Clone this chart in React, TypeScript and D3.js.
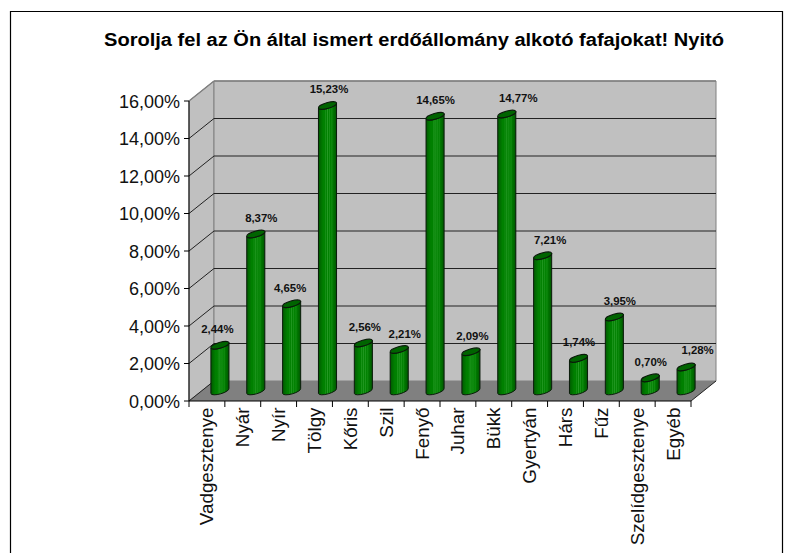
import React from "react";
import * as d3 from "d3";

const categories = ["Vadgesztenye","Nyár","Nyír","Tölgy","Kőris","Szil","Fenyő","Juhar","Bükk","Gyertyán","Hárs","Fűz","Szelídgesztenye","Egyéb"];
const values = [2.44,8.37,4.65,15.23,2.56,2.21,14.65,2.09,14.77,7.21,1.74,3.95,0.70,1.28];
const yTicks = [0,2,4,6,8,10,12,14,16];
const title = "Sorolja fel az Ön által ismert erdőállomány alkotó fafajokat! Nyitó";
// per-label placement nudges seen in the reference
const labelDx = [-2,6,-1,2,2,6,1,2,12,8,1,6,1,12];
const labelDy = [0,0,0,0,0,0,0,0,0,0,0,0,0,-1];

const fmt = (v: number, d = 2) => v.toFixed(d).replace(".", ",") + "%";

const x0 = 189, x1 = 691, yBase = 401, yTop = 101;
const depthX = 25, depthY = -20;
const font = "'Liberation Sans', Arial, sans-serif";

const stops: [number, string][] = [
  [0, "#005800"],[0.12,"#006c00"],[0.26,"#008000"],[0.36,"#008000"],[0.4,"#1c941c"],[0.44,"#008000"],
  [0.5,"#249a24"],[0.55,"#008000"],[0.62,"#1c941c"],[0.66,"#008000"],[0.74,"#108a10"],[0.8,"#007800"],[0.92,"#006400"],[1,"#005000"],
];

export default function App() {
  const x = d3.scaleBand<string>().domain(categories).range([x0, x1]);
  const y = d3.scaleLinear().domain([0, 16]).range([yBase, yTop]);
  const bw = x.bandwidth();
  const rx = 9.4, ang = -16, ry = 2.9;
  const dy = rx * Math.sin((ang * Math.PI) / 180);
  const dx = rx * Math.cos((ang * Math.PI) / 180);

  const floor = [[x0,yBase],[x1,yBase],[x1+depthX,yBase+depthY],[x0+depthX,yBase+depthY]].join(" ");
  const side = [[x0,yBase],[x0,yTop],[x0+depthX,yTop+depthY],[x0+depthX,yBase+depthY]].join(" ");
  const back = [[x0+depthX,yTop+depthY],[x1+depthX,yTop+depthY],[x1+depthX,yBase+depthY],[x0+depthX,yBase+depthY]].join(" ");

  return (
    <svg width={808} height={553} style={{ position: "absolute", left: 0, top: 0, background: "#fff" }}>
      <defs>
        <linearGradient id="cyl" x1="0" x2="1" y1="0" y2="0">
          {stops.map(([o, c], i) => <stop key={i} offset={o} stopColor={c} />)}
        </linearGradient>
      </defs>
      <path d="M10.5 553V11.5H782.5V553" fill="none" stroke="#000" strokeWidth={1.2} />
      <text x={414} y={46} textAnchor="middle" fontFamily={font} fontWeight="bold" fontSize={17.6} textLength={620} lengthAdjust="spacingAndGlyphs" fill="#000">{title}</text>

      <polygon points={side} fill="#c0c0c0" stroke="#808080" strokeWidth={1} />
      <polygon points={back} fill="#c0c0c0" stroke="#808080" strokeWidth={1} />
      <polygon points={floor} fill="#808080" />
      {yTicks.slice(1, -1).map(t => (
        <g key={t} stroke="#222" strokeWidth={1}>
          <line x1={x0} y1={y(t)} x2={x0 + depthX} y2={y(t) + depthY} />
          <line x1={x0 + depthX} y1={y(t) + depthY} x2={x1 + depthX} y2={y(t) + depthY} />
        </g>
      ))}
      <line x1={x0} y1={yTop} x2={x0+depthX} y2={yTop+depthY} stroke="#808080" strokeWidth={1.4} />
      <line x1={x0+depthX} y1={yTop+depthY} x2={x1+depthX} y2={yTop+depthY} stroke="#808080" strokeWidth={1.6} />
      <line x1={x0} y1={yBase} x2={x0+depthX} y2={yBase+depthY} stroke="#222" />
      <line x1={x1} y1={yBase} x2={x1+depthX} y2={yBase+depthY} stroke="#222" />

      {/* axes */}
      <line x1={x0} y1={yTop} x2={x0} y2={yBase} stroke="#000" />
      <line x1={x0} y1={yBase} x2={x1} y2={yBase} stroke="#000" />
      {yTicks.map(t => (
        <g key={t}>
          <line x1={x0 - 5} x2={x0} y1={y(t)} y2={y(t)} stroke="#000" />
          <text x={x0 - 9} y={y(t) + 6.5} textAnchor="end" fontFamily={font} fontSize={18} fill="#111">{fmt(t)}</text>
        </g>
      ))}
      {[...categories.map(c => x(c)!), x1].map((p, i) => (
        <line key={i} x1={p} x2={p} y1={yBase} y2={yBase + 6} stroke="#000" />
      ))}

      {/* cylinders */}
      {categories.map((c, i) => {
        const cx = x(c)! + bw / 2 + depthX / 2 + 0.5;
        const by = yBase + depthY / 2;
        const ty = by - (yBase - y(values[i]));
        const rot = `rotate(${ang} ${cx} ${ty})`;
        const body = `M${cx - dx} ${ty - dy}L${cx - dx} ${by - dy}A${rx} ${ry} ${ang} 0 0 ${cx + dx} ${by + dy}L${cx + dx} ${ty + dy}A${rx} ${ry} ${ang} 0 1 ${cx - dx} ${ty - dy}Z`;
        return (
          <g key={c}>
            <path d={body} fill="url(#cyl)" stroke="#0a1a0a" strokeWidth={1} />
            <ellipse cx={cx} cy={ty} rx={rx} ry={ry} transform={rot} fill="#006400" stroke="#0a1a0a" strokeWidth={1} />
          </g>
        );
      })}

      {/* value labels */}
      {categories.map((c, i) => {
        const cx = x(c)! + bw / 2 + depthX / 2;
        const ty = yBase + depthY / 2 - (yBase - y(values[i]));
        return (
          <text key={c} x={cx + labelDx[i]} y={ty - 12 + labelDy[i]} textAnchor="middle" fontFamily={font} fontWeight="bold" fontSize={11.4} fill="#111">{fmt(values[i])}</text>
        );
      })}

      {/* category labels */}
      {categories.map(c => {
        const cx = x(c)! + bw / 2;
        return (
          <text key={c} transform={`translate(${cx + 6.5} 407.5) rotate(-90)`} textAnchor="end" fontFamily={font} fontSize={18.8} fill="#111">{c}</text>
        );
      })}
    </svg>
  );
}
